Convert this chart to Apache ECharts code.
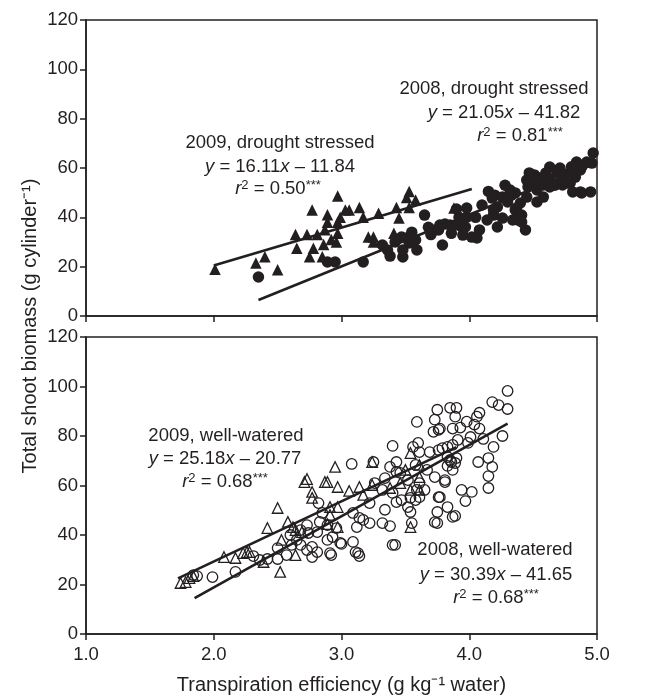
<!DOCTYPE html>
<html>
<head>
<meta charset="utf-8">
<script src="https://cdn.jsdelivr.net/npm/echarts@6/dist/echarts.min.js"></script>
<style>html,body{margin:0;padding:0;background:#fff}#c{width:649px;height:698px}</style>
</head>
<body>
<div id="c"></div>
<script>
// ---- data (x: transpiration efficiency g/kg, y: biomass g/cylinder) ----
const yTicks = [0, 20, 40, 60, 80, 100, 120];
const xTicks = [1.0, 2.0, 3.0, 4.0, 5.0];

// Top panel: drought stressed
const drought2009 = [
  [2.01,19],[2.33,21.5],[2.40,24],[2.50,18.7],[2.64,33],[2.73,33],[2.65,27.5],[2.77,43],[2.81,33],
  [2.89,41],[2.89,38],[2.87,35],[2.78,27.5],[2.75,24],[2.86,29],[2.85,24],[2.92,31],[2.96,30],
  [2.97,33.5],[2.97,48.6],[2.97,38],[3.03,43],[3.06,43],[2.99,40],[3.14,44],[3.17,40],[3.21,32],
  [3.25,30],[3.25,32],[3.29,41.7],[3.41,33.5],[3.43,44],[3.45,39.7],[3.51,48],[3.53,50.5],
  [3.58,47],[3.53,44],[3.88,43.8]
];
const drought2008 = [
  [2.35,15.8],[2.89,21.9],[2.95,21.9],[3.17,21.9],[3.32,28.8],[3.36,26.8],[3.38,24.3],[3.48,23.9],
  [3.48,26.8],[3.47,32.0],[3.51,31.6],[3.53,29.6],[3.58,30.8],[3.59,26.8],[3.65,40.9],[3.73,34.9],
  [3.77,36.9],[3.81,37.3],[3.85,36.9],[3.79,28.8],[3.91,36.9],[3.95,35.7],[3.98,40.1],[3.90,43.4],
  [3.98,43.8],[3.76,34.9],[3.95,32.8],[4.02,32.0],[4.06,31.6],[4.14,38.9],[4.19,40.9],[4.18,47.8],
  [4.20,49.0],[4.22,44.2],[4.30,46.2],[4.33,49.0],[4.36,49.9],[4.37,43.8],[4.38,38.9],[4.44,34.9],
  [4.41,40.9],[4.46,52.3],[4.45,55.1],[4.51,53.9],[4.55,55.9],[4.58,48.2],[4.53,46.2],[4.62,55.9],
  [4.63,52.3],[4.69,58.0],[4.73,53.1],[4.77,53.9],[4.83,56.3],[4.84,62.4],[4.88,60.4],[4.92,62.4],
  [4.97,66.1],[4.87,50.3],[4.95,50.3],[4.41,38.1],[4.36,43.0],[4.40,45.8],[4.45,48.2],[4.53,51.1],
  [4.58,53.1],[4.63,55.1],[4.69,58.4],[4.71,60.0],[4.73,55.1],[4.79,53.9],[4.87,59.2],[4.96,62.0],
  [4.81,50.3],[4.88,49.9],[4.19,43.0],[4.26,48.2],[4.32,51.1],[4.63,60.4],[4.51,57.2],[3.97,36.1],
  [4.08,34.9],[4.22,36.1],[4.26,39.7],[4.34,38.9],
  [3.42,30.0],[3.55,34.0],[3.68,36.0],[3.70,33.0],[3.86,33.5],[3.92,40.0],[4.05,40.0],[4.10,45.0],
  [4.15,50.5],[4.28,53.0],[4.47,58.0],[4.60,58.0],[4.67,53.0],[4.75,57.5],[4.80,60.5]
];
const lineDrought2009 = [[2.0, 20.5], [4.02, 51.5]];
const lineDrought2008 = [[2.35, 6.5], [4.95, 61.0]];

// Bottom panel: well-watered
const wet2009 = [
  [1.74,20.6],[1.78,21.0],[1.81,22.6],[1.84,23.4],[2.08,31.1],[2.17,30.7],[2.23,32.7],[2.26,33.1],
  [2.28,33.1],[2.39,29.1],[2.42,42.8],[2.50,50.9],[2.58,45.3],[2.62,43.2],[2.64,42.0],[2.69,41.2],
  [2.53,38.0],[2.52,25.1],[2.64,31.9],[2.71,61.4],[2.77,57.4],[2.77,55.0],[2.87,61.4],[2.89,61.4],
  [2.95,67.5],[2.97,59.4],[3.06,57.8],[3.14,59.4],[3.24,60.2],[3.24,69.5],[3.17,56.2],[2.91,51.3],
  [2.97,51.3],[2.91,48.1],[2.97,43.2],[2.89,44.4],[3.54,43.2],[3.38,59.0],[3.50,66.3],[3.54,73.1],
  [3.61,63.4],[3.61,68.3],[3.61,58.2],[3.46,61.0],[3.54,58.2],[2.73,62.6]
];
const wet2008 = [
  [1.84,23.8],[1.87,23.4],[1.99,23.0],[2.17,25.1],[2.31,31.5],[2.36,29.9],[2.42,30.3],[2.50,30.3],
  [2.50,34.7],[2.57,31.9],[2.61,36.0],[2.68,36.0],[2.73,33.9],[2.77,35.2],[2.81,33.1],[2.77,31.1],
  [2.89,38.0],[2.85,48.9],[2.83,45.3],[2.89,44.0],[2.81,41.2],[2.74,40.8],[2.65,38.0],[2.60,40.0],
  [2.82,52.9],[2.73,44.0],[2.68,42.0],[2.92,31.9],[2.96,42.8],[3.00,36.4],[3.09,48.9],[3.12,43.2],
  [3.14,46.9],[3.17,46.1],[3.22,44.8],[3.13,32.7],[3.11,33.1],[3.14,31.5],[3.32,44.8],[3.38,43.6],
  [3.40,36.0],[3.08,68.7],[3.25,69.5],[3.40,76.0],[3.38,67.5],[3.34,63.0],[3.43,65.5],[3.34,50.2],
  [3.40,57.0],[3.43,53.3],[3.59,85.7],[3.75,90.6],[3.85,91.4],[3.89,87.8],[3.73,86.6],[3.72,81.7],
  [3.76,82.5],[3.56,75.6],[3.60,77.2],[3.61,73.5],[3.69,73.5],[3.76,74.3],[3.79,75.1],[3.83,71.5],
  [3.86,69.5],[3.90,71.1],[3.87,66.3],[3.81,62.2],[3.73,63.4],[3.67,66.3],[3.58,68.3],[3.43,69.5],
  [3.46,65.1],[3.52,62.2],[3.61,61.0],[3.65,58.2],[3.59,58.2],[3.54,55.0],[3.47,54.1],[3.32,58.2],
  [3.26,61.0],[3.22,52.9],[3.52,51.3],[3.54,49.3],[3.58,54.1],[3.61,55.3],[3.76,55.3],[3.83,51.3],
  [3.75,49.3],[3.87,47.3],[3.73,45.2],[2.93,39.2],[2.99,36.8],[3.09,37.2],[2.91,32.7],[3.55,44.8],
  [3.75,44.8],[4.30,98.2],[4.18,93.7],[4.23,92.5],[4.30,90.9],[3.90,91.4],[4.06,87.8],[4.08,89.4],
  [3.98,85.8],[4.04,84.6],[4.08,83.0],[3.77,83.0],[3.87,83.0],[3.93,83.4],[4.26,80.0],[4.11,78.8],
  [4.01,79.6],[3.91,78.4],[3.99,77.2],[3.83,75.6],[3.87,76.4],[4.19,75.6],[4.15,71.1],[4.18,67.5],
  [4.07,69.5],[3.85,70.3],[3.89,69.1],[3.83,67.9],[4.15,63.8],[4.15,59.0],[3.94,58.2],[4.02,57.4],
  [3.97,53.7],[3.81,61.4],[3.77,55.3],[3.89,47.7],[3.42,36.0]
];
const lineWet2009 = [[1.72, 22.5], [3.90, 75.5]];
const lineWet2008 = [[1.85, 14.5], [4.30, 85.0]];

const FONT = '"Liberation Sans", Arial, Helvetica, sans-serif';
const INK = '#231f20';

const chart = echarts.init(document.getElementById('c'), null, {renderer: 'canvas'});

function xAxisCfg(gridIndex, showLabels) {
  return {
    type: 'value', gridIndex, min: 1, max: 5, interval: 1,
    axisLine: {show: true, onZero: false, lineStyle: {color: INK, width: 1.5}},
    axisTick: {show: true, inside: false, length: 6, lineStyle: {color: INK, width: 1.5}},
    axisLabel: {show: showLabels, color: INK, fontFamily: FONT, fontSize: 18.5, margin: 11,
      formatter: v => v.toFixed(1)},
    splitLine: {show: false},
    name: showLabels ? 'Transpiration efficiency (g kg\u207B\u00B9 water)' : '',
    nameLocation: 'middle', nameGap: 41,
    nameTextStyle: {color: INK, fontFamily: FONT, fontSize: 20}
  };
}
function yAxisCfg(gridIndex) {
  return {
    type: 'value', gridIndex, min: 0, max: 120, interval: 20,
    axisLine: {show: true, onZero: false, lineStyle: {color: INK, width: 1.5}},
    axisTick: {show: true, inside: false, length: 6, lineStyle: {color: INK, width: 1.5}},
    axisLabel: {color: INK, fontFamily: FONT, fontSize: 18.5, margin: 8},
    splitLine: {show: false}
  };
}

const richStyles = {
  n: {fontFamily: FONT, fontSize: 18.5, fill: INK},
  i: {fontFamily: FONT, fontSize: 18.5, fill: INK, fontStyle: 'italic'},
  s: {fontFamily: FONT, fontSize: 13, fill: INK, verticalAlign: 'top', padding: [0,0,7,0]}
};
function textEl(x, y, text) {
  return {
    type: 'text', x, y, z: 100,
    style: {
      text, x: 0, y: 0, align: 'center', verticalAlign: 'middle',
      fontFamily: FONT, fontSize: 18.5, fill: INK,
      rich: richStyles
    }
  };
}

const annotations = [
  ['{n|2009, drought stressed}', 280, 143],
  ['{i|y}{n| = 16.11}{i|x}{n| \u2013 11.84}', 280, 167],
  ['{i|r}{s|2}{n| = 0.50}{s|***}', 278, 189],
  ['{n|2008, drought stressed}', 494, 89],
  ['{i|y}{n| = 21.05}{i|x}{n| \u2013 41.82}', 504, 113],
  ['{i|r}{s|2}{n| = 0.81}{s|***}', 520, 136],
  ['{n|2009, well-watered}', 226, 436],
  ['{i|y}{n| = 25.18}{i|x}{n| \u2013 20.77}', 225, 459],
  ['{i|r}{s|2}{n| = 0.68}{s|***}', 225, 482],
  ['{n|2008, well-watered}', 495, 550],
  ['{i|y}{n| = 30.39}{i|x}{n| \u2013 41.65}', 496, 575],
  ['{i|r}{s|2}{n| = 0.68}{s|***}', 496, 598]
];

const lineStyle = {color: INK, width: 2.6};

const option = {
  backgroundColor: '#fff',
  animation: false,
  grid: [
    {left: 86, top: 20, width: 511, height: 296, show: true, borderColor: INK, borderWidth: 1.5, backgroundColor: 'transparent'},
    {left: 86, top: 337, width: 511, height: 297, show: true, borderColor: INK, borderWidth: 1.5, backgroundColor: 'transparent'}
  ],
  xAxis: [xAxisCfg(0, false), xAxisCfg(1, true)],
  yAxis: [yAxisCfg(0), yAxisCfg(1)],
  series: [
    {type: 'scatter', xAxisIndex: 0, yAxisIndex: 0, data: drought2008, symbol: 'circle', symbolSize: 11.5,
      itemStyle: {color: INK, opacity: 1}, clip: false},
    {type: 'scatter', xAxisIndex: 0, yAxisIndex: 0, data: drought2009, symbol: 'triangle', symbolSize: 11.5,
      itemStyle: {color: INK, opacity: 1}, clip: false},
    {type: 'line', xAxisIndex: 0, yAxisIndex: 0, data: lineDrought2009, symbol: 'none', lineStyle, z: 5},
    {type: 'line', xAxisIndex: 0, yAxisIndex: 0, data: lineDrought2008, symbol: 'none', lineStyle, z: 5},
    {type: 'scatter', xAxisIndex: 1, yAxisIndex: 1, data: wet2008, symbol: 'circle', symbolSize: 10.5,
      itemStyle: {color: 'rgba(255,255,255,0)', borderColor: INK, borderWidth: 1.3, opacity: 1}, clip: false},
    {type: 'scatter', xAxisIndex: 1, yAxisIndex: 1, data: wet2009, symbol: 'triangle', symbolSize: 10.5,
      itemStyle: {color: 'rgba(255,255,255,0)', borderColor: INK, borderWidth: 1.3, opacity: 1}, clip: false},
    {type: 'line', xAxisIndex: 1, yAxisIndex: 1, data: lineWet2009, symbol: 'none', lineStyle, z: 5},
    {type: 'line', xAxisIndex: 1, yAxisIndex: 1, data: lineWet2008, symbol: 'none', lineStyle, z: 5}
  ],
  graphic: [
    {
      type: 'text', x: 30, y: 326, rotation: Math.PI / 2, z: 100,
      style: {text: 'Total shoot biomass (g cylinder\u207B\u00B9)', align: 'center', verticalAlign: 'middle',
        fontFamily: FONT, fontSize: 20, fill: INK}
    }
  ].concat(annotations.map(a => textEl(a[1], a[2], a[0])))
};
chart.setOption(option);
</script>
</body>
</html>
